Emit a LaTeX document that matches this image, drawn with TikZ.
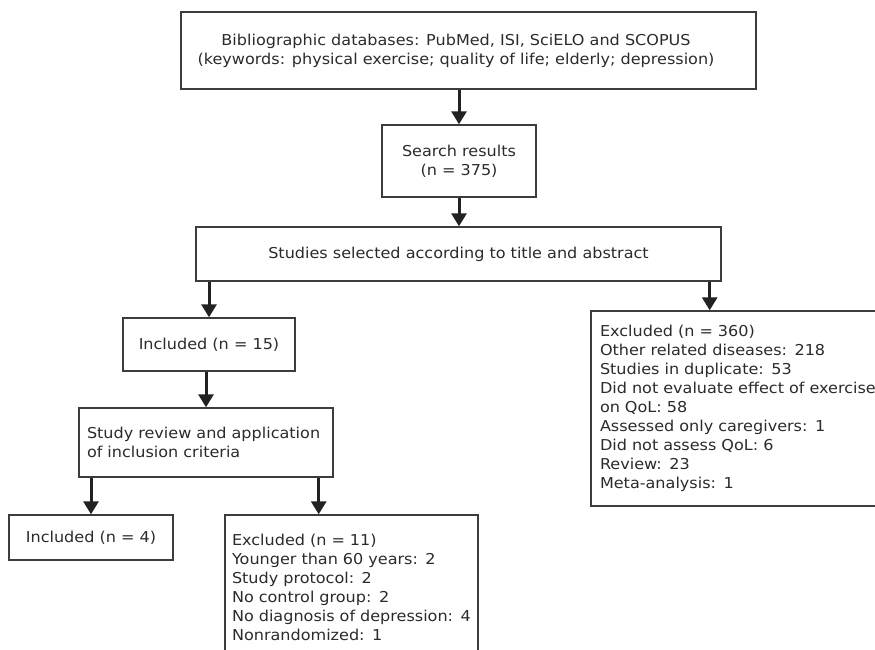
\documentclass[tikz,border=0pt]{standalone}
\usepackage{fontspec}
\setmainfont[FakeStretch=1.07]{DejaVu Sans}
\usetikzlibrary{arrows.meta,calc}
\definecolor{txt}{HTML}{2B2B2B}
\definecolor{frame}{HTML}{3C3C3C}
\definecolor{arr}{HTML}{222222}
\begin{document}
\begin{tikzpicture}[x=1pt,y=-1pt,
  box/.style={draw=frame,line width=1.4pt,rectangle,inner sep=0pt,text=txt,
    font=\fontsize{15}{19}\selectfont},
  label text/.style={inner sep=0pt,text=txt,font=\fontsize{15}{19}\selectfont},
  arrowline/.style={draw=arr,line width=3pt,-{Triangle[width=15pt,length=13pt]}}]
\useasboundingbox (0,0) rectangle (875,650);
\clip (0,0) rectangle (875,650);
\fill[white] (0,0) rectangle (875,650);
\node[box,minimum width=575pt,minimum height=77pt] (db) at (468.5,50.5) {};
\node[label text,align=center] (dbtext) at (456,50.5)
  {Bibliographic databases: PubMed, ISI, SciELO and SCOPUS\\(keywords: physical exercise; quality of life; elderly; depression)};
\node[box,minimum width=154pt,minimum height=72pt,align=center] (search) at (459,161)
  {Search results\\(n = 375)};
\node[box,minimum width=525pt,minimum height=54pt,align=center] (studies) at (458.5,254)
  {Studies selected according to title and abstract};
\node[box,minimum width=172pt,minimum height=53pt,align=center] (inc15) at (209,344.5)
  {Included (n = 15)};
\node[box,minimum width=254pt,minimum height=69pt,inner xsep=8pt,text width=238pt,align=left] (review) at (206,442.5)
  {Study review and application\\of inclusion criteria};
\node[box,minimum width=164pt,minimum height=45pt,align=center] (inc4) at (91,537.5)
  {Included (n = 4)};
\node[box,minimum width=253pt,minimum height=145pt,inner xsep=7pt,text width=239pt,align=left] (excl11) at (351.5,587.5)
  {Excluded (n = 11)\\Younger than 60 years: 2\\Study protocol: 2\\No control group: 2\\No diagnosis of depression: 4\\Nonrandomized: 1};
\node[box,minimum width=304pt,minimum height=195pt,inner xsep=9pt,text width=286pt,align=left] (excl360) at (743,408.5)
  {Excluded (n = 360)\\Other related diseases: 218\\Studies in duplicate: 53\\Did not evaluate effect of exercise\\on QoL: 58\\Assessed only caregivers: 1\\Did not assess QoL: 6\\Review: 23\\Meta-analysis: 1};
\draw[arrowline] (db.south -| search.north) -- (search.north);
\draw[arrowline] (search.south) -- (search.south |- studies.north);
\draw[arrowline] (studies.south -| inc15.north) -- (inc15.north);
\coordinate (sr) at ($(studies.south east)+(-12,0)$);
\draw[arrowline] (sr) -- (sr |- excl360.north);
\draw[arrowline] (inc15.south -| review.north) -- (review.north);
\draw[arrowline] (review.south -| inc4.north) -- (inc4.north);
\coordinate (rr) at ($(review.south east)+(-15,0)$);
\draw[arrowline] (rr) -- (rr |- excl11.north);
\end{tikzpicture}
\end{document}
